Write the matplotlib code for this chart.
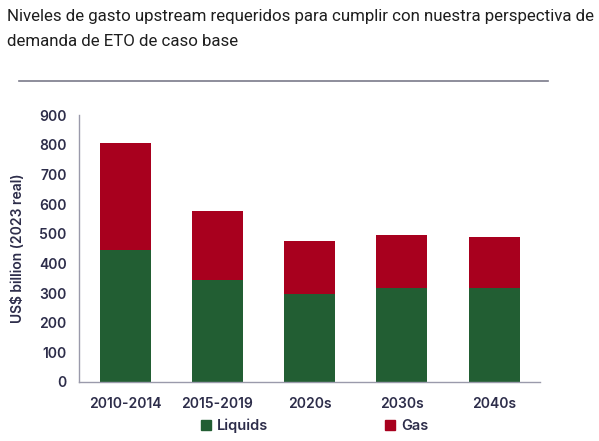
import matplotlib.pyplot as plt
from matplotlib.patches import Patch
import numpy as np

# data
periods = ['2010-2014', '2015-2019', '2020s', '2030s', '2040s']
liquids = [445, 343, 295, 317, 316]
gas = [360, 235, 181, 180, 173]

green = '#225e33'
red = '#a8001e'
navy = '#2d2d4a'
spine_col = '#9a9aab'

fig = plt.figure(figsize=(5.99, 4.41), dpi=100)
ax = fig.add_axes([0.1319, 0.1338, 0.77, 0.6054])

x = np.arange(len(periods))
ax.bar(x, liquids, width=0.555, color=green, label='Liquids')
ax.bar(x, gas, width=0.555, bottom=liquids, color=red, label='Gas')

ax.set_xlim(-0.5, 4.5)
ax.set_ylim(0, 900)
ax.set_yticks(range(0, 901, 100))
ax.set_xticks(x)
ax.set_xticklabels(periods)
ax.tick_params(length=0, labelsize=10, labelcolor=navy)
ax.tick_params(axis='x', pad=11)
ax.tick_params(axis='y', pad=9)
for lbl in ax.get_xticklabels() + ax.get_yticklabels():
    lbl.set_fontweight('semibold')
    lbl.set_family('Inter')

for side in ['top', 'right']:
    ax.spines[side].set_visible(False)
for side in ['left', 'bottom']:
    ax.spines[side].set_color(spine_col)
    ax.spines[side].set_linewidth(1.0)

ax.set_ylabel('US$ billion (2023 real)', fontsize=10, color=navy,
              family='Inter', fontweight='semibold', labelpad=10)

# title and rule above the chart
fig.text(0.012, 0.962, 'Niveles de gasto upstream requeridos para cumplir con nuestra perspectiva de',
         fontsize=12.2, family='Roboto', color='#1e1e1e', va='center')
fig.text(0.012, 0.907, 'demanda de ETO de caso base',
         fontsize=12.2, family='Roboto', color='#1e1e1e', va='center')
fig.add_artist(plt.Line2D([0.032, 0.915], [0.816, 0.816], color='#7a7a8a', lw=1.2))

handles = [Patch(color=green, label='Liquids'), Patch(color=red, label='Gas')]
leg = fig.legend(handles=handles, loc='center', bbox_to_anchor=(0.525, 0.034), ncol=2,
                 frameon=False, handlelength=0.7, handleheight=0.7, handletextpad=0.4,
                 columnspacing=8.0, prop={'family': 'Inter', 'weight': 'semibold', 'size': 10.5})
for t in leg.get_texts():
    t.set_color(navy)

fig.savefig('out.png', dpi=100)
